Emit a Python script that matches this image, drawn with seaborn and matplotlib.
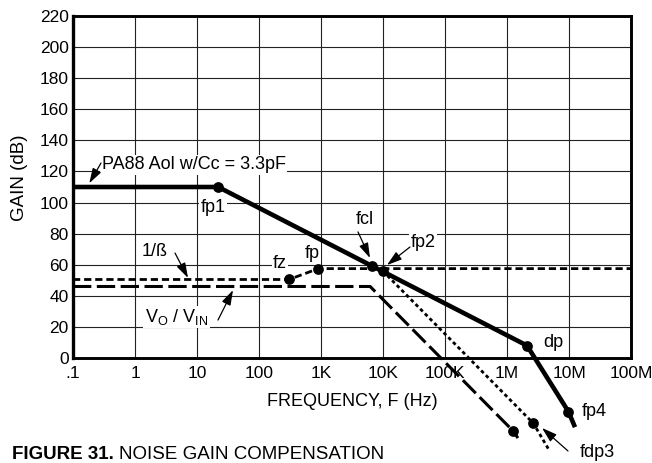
import matplotlib
matplotlib.use("Agg")
import matplotlib.pyplot as plt
import pandas as pd
import seaborn as sns

# Axis ticks
freq_ticks = [0.1, 1, 10, 100, 1e3, 1e4, 1e5, 1e6, 1e7, 1e8]
freq_labels = [".1", "1", "10", "100", "1K", "10K", "100K", "1M", "10M", "100M"]
gain_ticks = list(range(0, 221, 20))

# PA88 open loop gain (Aol)
aol_freq = [0.1, 22, 2.1e6, 9.8e6, 1.25e7]
aol_gain = [110, 110, 8, -34.5, -44.5]
aol_mark_freq = [22, 6.7e3, 9.9e3, 2.1e6, 9.8e6]   # fp1, fcl, fp2, dp, fp4
aol_mark_gain = [110, 59.5, 56, 8, -34.5]

# Noise gain 1/beta
beta_freq = [0.1, 305, 904, 1e8]
beta_gain = [50.5, 50.5, 57.5, 57.5]
beta_mark_freq = [305, 904]   # fz, fp
beta_mark_gain = [50.5, 57.5]

# Closed loop Vo/Vin
vout_freq = [0.1, 6.2e3, 1.26e6, 1.5e6]
vout_gain = [46, 46, -47, -51.5]
vout_mark_freq = [1.26e6]
vout_mark_gain = [-47]

# Loop gain roll-off past fp2
loop_freq = [9.9e3, 2.66e6, 4.9e6]
loop_gain = [56, -42, -60]
loop_mark_freq = [2.66e6]   # fdp3
loop_mark_gain = [-42]

sns.set_theme(style="white")
plt.rcParams["font.family"] = ["Liberation Sans", "DejaVu Sans"]
plt.rcParams["font.size"] = 13

fig = plt.figure(figsize=(6.52, 4.63), dpi=100)
ax = fig.add_axes([73 / 652, 1 - 358 / 463, 558 / 652, 342 / 463])


def draw_curve(fx, gy, **kw):
    df = pd.DataFrame({"f": fx, "g": gy})
    sns.lineplot(data=df, x="f", y="g", ax=ax, sort=False, estimator=None,
                 color="black", clip_on=False, **kw)


def draw_marks(fx, gy, size=60):
    df = pd.DataFrame({"f": fx, "g": gy})
    sns.scatterplot(data=df, x="f", y="g", ax=ax, s=size, color="black",
                    linewidth=0, zorder=6, clip_on=False)


draw_curve(vout_freq, vout_gain, lw=2.2, linestyle=(0, (6, 1.8)), zorder=3)
draw_curve(loop_freq, loop_gain, lw=2.0, linestyle=(0, (1.3, 1.1)), zorder=3)
draw_curve(beta_freq, beta_gain, lw=2.0, linestyle=(0, (2.6, 1.4)), zorder=4)
draw_curve(aol_freq, aol_gain, lw=3.3, zorder=5, solid_capstyle="butt")

draw_marks(aol_mark_freq, aol_mark_gain)
draw_marks(beta_mark_freq, beta_mark_gain)
draw_marks(vout_mark_freq, vout_mark_gain)
draw_marks(loop_mark_freq, loop_mark_gain)

ax.set_xscale("log")
ax.set_xlim(0.1, 1e8)
ax.set_ylim(0, 220)
ax.set_xticks(freq_ticks)
ax.set_xticklabels(freq_labels)
ax.set_yticks(gain_ticks)
ax.minorticks_off()
ax.tick_params(axis="both", length=0, labelsize=12.5, colors="black")
ax.tick_params(axis="x", pad=6)
ax.tick_params(axis="y", pad=3)
ax.grid(True, color="#222222", lw=0.8)
for side, sp in ax.spines.items():
    sp.set_color("black")
    sp.set_linewidth(2.4 if side == "left" else 2.1)

ax.set_xlabel("FREQUENCY, F (Hz)", fontsize=13, color="black", va="top")
ax.xaxis.set_label_coords(0.5, -0.102)
ax.set_ylabel("GAIN (dB)", fontsize=13.5, color="black")
ax.yaxis.set_label_coords(-0.081, 0.528)

box = dict(facecolor="white", edgecolor="none", pad=1.0)
arrow = dict(arrowstyle="-|>,head_length=0.7,head_width=0.22", color="black",
             lw=0.9, shrinkA=0, shrinkB=0)


def label(text, fx, gy, ha="center", boxed=True):
    ax.text(fx, gy, text, ha=ha, va="center", fontsize=13, color="black",
            bbox=box if boxed else None, zorder=4.5, clip_on=False)


def pointer(tail, head):
    ax.annotate("", xy=head, xytext=tail, arrowprops=arrow, zorder=7,
                annotation_clip=False)


label("PA88 Aol w/Cc = 3.3pF", 0.29, 124.2, ha="left")
pointer((0.283, 125.4), (0.183, 112.4))
label("fp1", 18.1, 96.5)
label("fcl", 5.13e3, 88.8)
pointer((3.95e3, 81.1), (6.17e3, 64.3))
label("fp2", 4.42e4, 74.0)
pointer((2.72e4, 71.4), (1.16e4, 59.8))
label("1/ß", 2.1, 68.2)
pointer((4.42, 67.5), (7.16, 51.5))
label("fz", 218, 61.1)
label("fp", 716, 67.5)
label(r"V$_\mathregular{O}$ / V$_\mathregular{IN}$", 4.67, 26.4)
pointer((21.8, 24.4), (38.1, 43.7))
label("dp", 5.52e6, 9.65)
label("fp4", 2.53e7, -34.7, boxed=False)
label("fdp3", 2.83e7, -61.1, boxed=False)
pointer((9.63e6, -59.8), (3.67e6, -45.0))

t1 = fig.text(12 / 652, 4 / 463, "FIGURE 31.", fontsize=13.5, fontweight="bold",
              va="baseline", color="black")
fig.canvas.draw()
bb = t1.get_window_extent()
fig.text((bb.x1 + 5) / 652, 4 / 463, "NOISE GAIN COMPENSATION", fontsize=13.5,
         va="baseline", color="black")

fig.savefig("out.png", dpi=100)
